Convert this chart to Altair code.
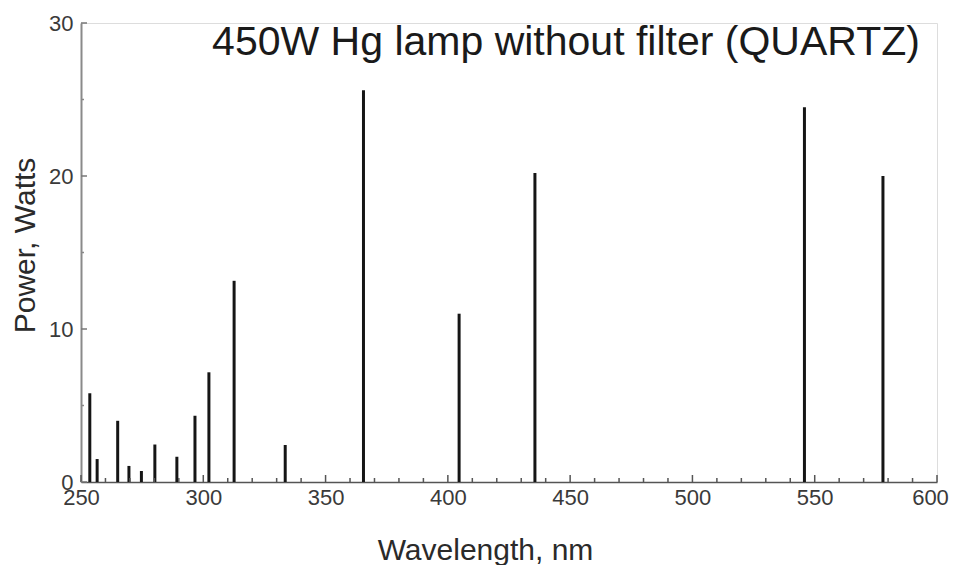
import altair as alt
import pandas as pd

# Hg lamp emission lines (nm) and power (W)
wavelengths = [253.6, 256.6, 265.0, 269.6, 274.7, 280.2, 289.2, 296.6, 302.3, 312.6,
               333.5, 365.5, 404.6, 435.6, 545.8, 577.9]
powers = [5.8, 1.5, 4.0, 1.05, 0.72, 2.45, 1.65, 4.33, 7.17, 13.15,
          2.42, 25.6, 11.0, 20.2, 24.5, 20.0]

x_major = [250, 300, 350, 400, 450, 500, 550, 600]
x_minor = [v for v in range(260, 600, 10) if v % 50 != 0]
y_major = [0, 10, 20, 30]
y_minor = [5, 15, 25]

title_text = "450W Hg lamp without filter (QUARTZ)"
x_title = "Wavelength, nm"
y_title = "Power, Watts"

W, H = 856, 459
FONT = "Liberation Sans"

lines_df = pd.DataFrame({"wl": wavelengths, "p": powers})

xs = alt.Scale(domain=[250, 600], nice=False, zero=False)
ys = alt.Scale(domain=[0, 30], nice=False)

base_lines = alt.Chart(lines_df).mark_rule(color="#151515", strokeWidth=3).encode(
    x=alt.X("wl:Q", scale=xs,
            axis=alt.Axis(values=x_major, title=x_title, ticks=False, grid=False,
                          domainColor="#555555", domainWidth=1.5,
                          labelFont=FONT, labelFontSize=22, labelColor="#3a3a3a",
                          labelPadding=5, labelFlush=False,
                          labelOffset={"condition": {"test": "datum.value == 600", "value": -7},
                                       "value": 0},
                          titleFont=FONT, titleFontSize=30, titleFontWeight="normal",
                          titleColor="#2a2a2a", titleX=404, titleY=77,
                          titleBaseline="alphabetic", titleAlign="center")),
    y=alt.Y("p:Q", scale=ys,
            axis=alt.Axis(values=y_major, title=y_title, ticks=False, grid=False,
                          domainColor="#8a8a8a", domainWidth=2,
                          labelFont=FONT, labelFontSize=22, labelColor="#3a3a3a",
                          labelPadding=8, labelFlush=False,
                          titleFont=FONT, titleFontSize=30, titleFontWeight="normal",
                          titleColor="#2a2a2a", titleAngle=-90, titleX=-47, titleY=222,
                          titleBaseline="alphabetic", titleAlign="center")),
    y2=alt.datum(0),
)

xmaj = alt.Chart(pd.DataFrame({"v": x_major})).mark_rule(color="#555555", strokeWidth=1.5).encode(
    x=alt.X("v:Q", scale=xs), y=alt.value(H), y2=alt.value(H - 7))
xmin = alt.Chart(pd.DataFrame({"v": x_minor})).mark_rule(color="#555555", strokeWidth=1.5).encode(
    x=alt.X("v:Q", scale=xs), y=alt.value(H), y2=alt.value(H - 4))
ymaj = alt.Chart(pd.DataFrame({"v": y_major})).mark_rule(color="#777777", strokeWidth=1.5).encode(
    y=alt.Y("v:Q", scale=ys), x=alt.value(0), x2=alt.value(6))
ymin = alt.Chart(pd.DataFrame({"v": y_minor})).mark_rule(color="#888888", strokeWidth=1.5).encode(
    y=alt.Y("v:Q", scale=ys), x=alt.value(0), x2=alt.value(3))

title = alt.Chart(pd.DataFrame({"t": [title_text]})).mark_text(
    font=FONT, fontSize=41, color="#1a1a1a", align="center", baseline="alphabetic"
).encode(text="t:N", x=alt.value(485), y=alt.value(32))

chart = alt.layer(base_lines, xmaj, xmin, ymaj, ymin, title).properties(
    width=W, height=H,
    autosize=alt.AutoSizeParams(type="none"),
    padding={"left": 73, "top": 15, "right": 12, "bottom": 90},
).configure_view(stroke=None).configure(background="white")

chart.save("out.html", embed_options={"renderer": "svg", "actions": False})
